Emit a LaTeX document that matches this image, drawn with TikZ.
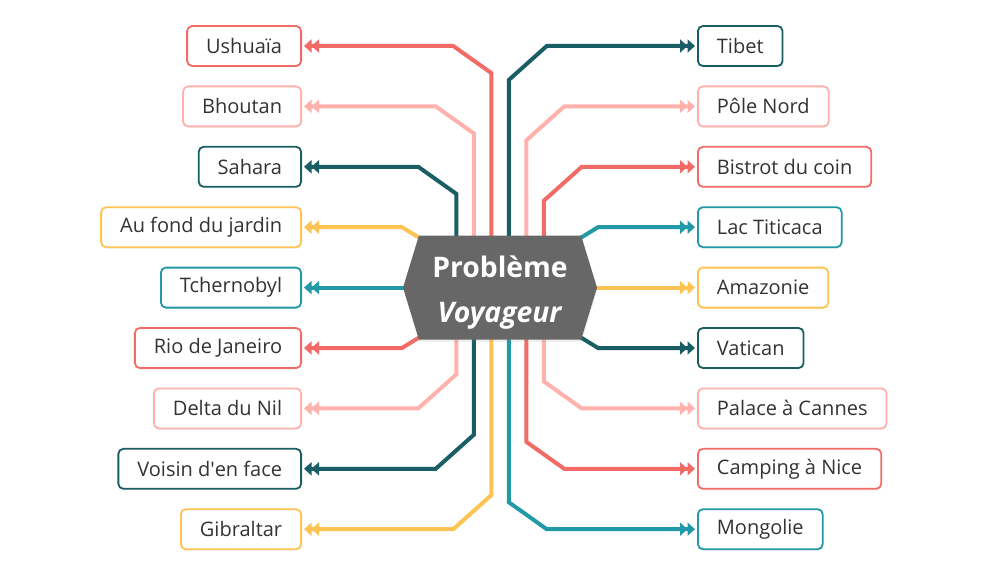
\documentclass[tikz,border=0pt]{standalone}
\usepackage{fontspec}
\setmainfont{Open Sans}
\usetikzlibrary{arrows.meta,calc,shapes.symbols,shadows,backgrounds}

\definecolor{coral}{HTML}{F26B66}
\definecolor{blush}{HTML}{FFB1AC}
\definecolor{pine}{HTML}{185E64}
\definecolor{lagoon}{HTML}{2199A6}
\definecolor{sun}{HTML}{FEC352}
\definecolor{slate}{HTML}{676767}
\definecolor{ink}{HTML}{333333}

\newcommand{\placefont}{\fontsize{20}{24}\selectfont}
\newcommand{\hubfont}{\fontsize{28.3}{45}\selectfont\bfseries}

\tikzset{
  place/.style={draw=#1, rounded corners=5pt, line width=1.8pt, fill=white,
    text=ink, font=\placefont, minimum height=40pt, inner xsep=19pt,
    drop shadow={shadow xshift=0.5pt, shadow yshift=-1.5pt, opacity=0.12}},
  link/.style={draw=#1, line width=4pt, shorten >=2pt,
    -{Triangle[length=7.5pt,width=13pt] Triangle[length=7.5pt,width=13pt]}},
}

\begin{document}
\begin{tikzpicture}[x=1pt,y=-1pt]
    \pgfmathsetmacro{\toprow}{46}
    \pgfmathsetmacro{\rowstep}{60.4}
    \pgfmathsetmacro{\leftedge}{302}
    \pgfmathsetmacro{\rightedge}{697}
    \useasboundingbox (0,0) rectangle (992,580);
    % destinations on the left
    \foreach \name/\col/\txt [count=\i] in {ushuaia/coral/Ushuaïa, bhoutan/blush/Bhoutan,
        sahara/pine/Sahara, jardin/sun/Au fond du jardin, tchernobyl/lagoon/Tchernobyl,
        rio/coral/Rio de Janeiro, delta/blush/Delta du Nil,
        voisin/pine/{Voisin d\textquotesingle{}en face}, gibraltar/sun/Gibraltar}
      \node[place=\col, anchor=east] (\name) at (\leftedge,{\toprow+(\i-1)*\rowstep}) {\txt};
    % destinations on the right
    \foreach \name/\col/\txt [count=\i] in {tibet/pine/Tibet, pole/blush/Pôle Nord,
        bistrot/coral/Bistrot du coin, titicaca/lagoon/Lac Titicaca, amazonie/sun/Amazonie,
        vatican/pine/Vatican, palace/blush/Palace à Cannes, camping/coral/Camping à Nice,
        mongolie/lagoon/Mongolie}
      \node[place=\col, anchor=west] (\name) at (\rightedge,{\toprow+(\i-1)*\rowstep}) {\txt};
    % hub
    \node[signal, signal to=west and east, signal pointer angle=146, fill=slate,
      text=white, font=\hubfont, align=center, minimum width=194pt, minimum height=104pt,
      inner sep=0pt, drop shadow={shadow xshift=0.5pt, shadow yshift=-2pt, opacity=0.15}]
      (hex) at (500,{\toprow+4*\rowstep}) {\rule{0pt}{32pt}Problème\\\textit{Voyageur}};
    \begin{pgfonlayer}{background}
    \foreach \name/\col/\dx in {ushuaia/coral/-8.75, bhoutan/blush/-26.25, sahara/pine/-43.75}
      \draw[link=\col] ($(hex.center)+(\dx,0)$) -- ($(hex.center |- \name.east)+(\dx,27)$)
        -- ($(hex.center |- \name.east)+({\dx-38},0)$) -- (\name.east);
    \foreach \name/\col/\dx in {tibet/pine/8.75, pole/blush/26.25, bistrot/coral/43.75}
      \draw[link=\col] ($(hex.center)+(\dx,0)$) -- ($(hex.center |- \name.west)+(\dx,34)$)
        -- ($(hex.center |- \name.west)+({\dx+38},0)$) -- (\name.west);
    \foreach \name/\col/\dx in {delta/blush/-43.75, voisin/pine/-26.25, gibraltar/sun/-8.75}
      \draw[link=\col] ($(hex.center)+(\dx,0)$) -- ($(hex.center |- \name.east)+(\dx,-34)$)
        -- ($(hex.center |- \name.east)+({\dx-38},0)$) -- (\name.east);
    \foreach \name/\col/\dx in {mongolie/lagoon/8.75, camping/coral/26.25, palace/blush/43.75}
      \draw[link=\col] ($(hex.center)+(\dx,0)$) -- ($(hex.center |- \name.west)+(\dx,-27)$)
        -- ($(hex.center |- \name.west)+({\dx+38},0)$) -- (\name.west);
    \draw[link=sun] (hex.center) -- ($(jardin.east)+(100,0)$) -- (jardin.east);
    \draw[link=coral] (hex.center) -- ($(rio.east)+(100,0)$) -- (rio.east);
    \draw[link=lagoon] (hex.center) -- (tchernobyl.east);
    \draw[link=lagoon] (hex.center) -- ($(titicaca.west)+(-99,0)$) -- (titicaca.west);
    \draw[link=pine] (hex.center) -- ($(vatican.west)+(-99,0)$) -- (vatican.west);
    \draw[link=sun] (hex.center) -- (amazonie.west);
    \end{pgfonlayer}
\end{tikzpicture}
\end{document}
